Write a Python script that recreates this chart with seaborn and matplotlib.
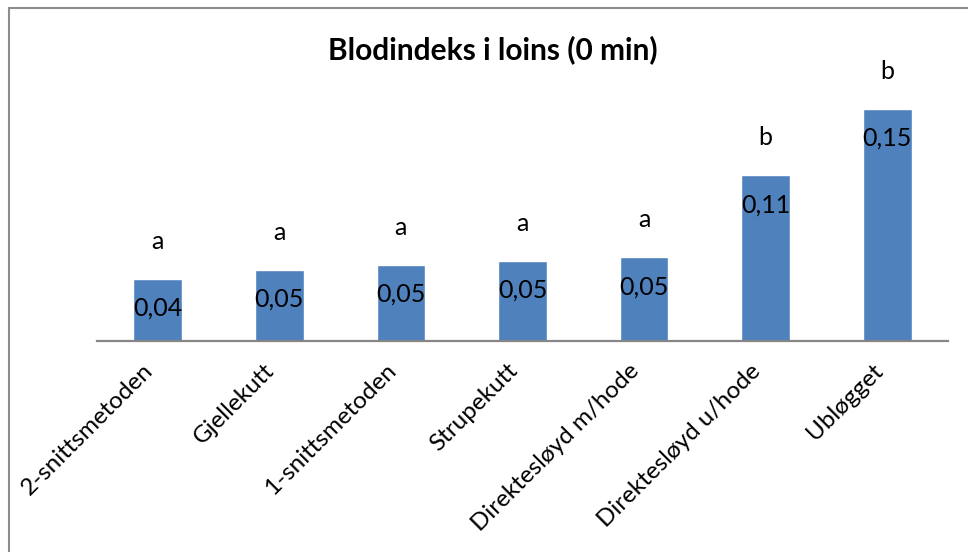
import numpy as np
import pandas as pd
import matplotlib
matplotlib.use("Agg")
import matplotlib.pyplot as plt
import matplotlib.transforms as mtransforms
import seaborn as sns

# data
methods = ["2-snittsmetoden", "Gjellekutt", "1-snittsmetoden", "Strupekutt",
           "Direktesløyd m/hode", "Direktesløyd u/hode", "Ubløgget"]
blodindeks = [0.040, 0.046, 0.049, 0.052, 0.054, 0.107, 0.150]
groups = ["a", "a", "a", "a", "a", "b", "b"]

df = pd.DataFrame({"metode": methods, "indeks": blodindeks})

sns.set_style("white")
plt.rcParams["font.family"] = ["Lato", "DejaVu Sans"]
plt.rcParams["text.color"] = "black"
plt.rcParams["xtick.color"] = "black"

fig = plt.figure(figsize=(9.68, 5.52), dpi=100)
ax = fig.add_axes([97 / 968, 1 - 341 / 552, 851 / 968, 278.5 / 552])

sns.barplot(data=df, x="metode", y="indeks", color="#4F81BD", saturation=1,
            width=0.4, ax=ax)
ax.set_ylim(0, 0.18)
ax.set_xlim(-0.5, len(methods) - 0.5)

# value labels inside the bar top, letters above
for i, (v, g) in enumerate(zip(blodindeks, groups)):
    ax.annotate(f"{v:.2f}".replace(".", ","), (i, v), xytext=(0, -21),
                textcoords="offset points", ha="center", va="center",
                fontsize=18, color="black")
    ax.annotate(g, (i, v), xytext=(0, 27), textcoords="offset points",
                ha="center", va="center", fontsize=18, color="black")

ax.set_xlabel("")
ax.set_ylabel("")
ax.set_yticks([])
ax.tick_params(axis="x", length=0, pad=14, colors="black")
shift = mtransforms.ScaledTranslation(-0.08, -0.07, fig.dpi_scale_trans)
for lab in ax.get_xticklabels():
    lab.set_rotation(45)
    lab.set_ha("right")
    lab.set_va("center")
    lab.set_rotation_mode("anchor")
    lab.set_fontsize(17.5)
    lab.set_transform(lab.get_transform() + shift)

sns.despine(ax=ax, left=True, right=True, top=True)
ax.spines["bottom"].set_color("#868686")
ax.spines["bottom"].set_linewidth(1.6)

fig.text(493 / 968, 1 - 50 / 552, "Blodindeks i loins (0 min)", ha="center",
         va="center", fontsize=21.5, fontweight="bold", color="black")

# chart-area frame (only left and top edges visible)
fig.add_artist(plt.Line2D([8.5 / 968, 8.5 / 968], [0, 1 - 7.5 / 552],
                          transform=fig.transFigure, color="#8c8c8c", lw=1.5))
fig.add_artist(plt.Line2D([8.5 / 968, 1], [1 - 7.5 / 552, 1 - 7.5 / 552],
                          transform=fig.transFigure, color="#8c8c8c", lw=1.5))

fig.savefig("out.png", dpi=100)
